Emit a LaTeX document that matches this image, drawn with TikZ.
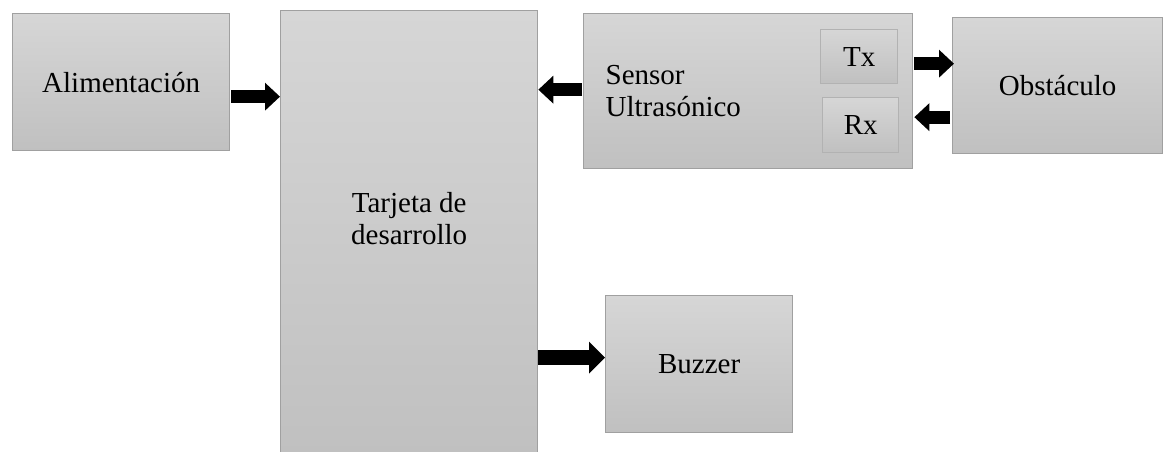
\documentclass[tikz,border=0pt]{standalone}
\usepackage{fontspec}
\setmainfont{Liberation Serif}
\usepackage{tikz}
\usetikzlibrary{arrows.meta,calc,shapes}

\definecolor{boxtop}{RGB}{214,214,214}
\definecolor{boxbot}{RGB}{192,192,192}
\definecolor{boxline}{RGB}{160,160,160}
\definecolor{subline}{RGB}{178,178,178}

\begin{document}
\begin{tikzpicture}[x=0.75pt,y=-0.75pt,font=\fontsize{21.75}{24}\selectfont]
  \tikzstyle{box}=[rectangle,draw=boxline,line width=1pt,top color=boxtop,
                   bottom color=boxbot,anchor=north west,inner sep=0pt,align=center]
  \tikzstyle{subbox}=[box,draw=subline]
  \tikzstyle{blk}=[line width=9.75pt,-{Triangle[length=11.25pt,width=20.25pt]}]
  \tikzstyle{blkbig}=[line width=11.5pt,-{Triangle[length=12pt,width=23.25pt]}]

  \useasboundingbox (0,0) rectangle (1165,451);

  % bloques
  \node [box,minimum width=162.75pt,minimum height=102.75pt] (alim) at (12,13) {Alimentación};
  \node [box,minimum width=192.75pt,minimum height=333.75pt] (tarjeta) at (280,10) {};
  \node [align=center] (tarjetatxt) at ($(tarjeta.center)+(0,-15)$) {Tarjeta de\\desarrollo};
  \node [box,minimum width=246.75pt,minimum height=116.25pt,align=left,
         text width=213.75pt,inner xsep=16.5pt] (sensor) at (583,13) {Sensor\\Ultrasónico};
  \node [subbox,minimum width=57.75pt,minimum height=40.5pt] (tx) at (820,29) {Tx};
  \node [subbox,minimum width=57pt,minimum height=41.25pt] (rx) at (822,97) {Rx};
  \node [box,minimum width=157.5pt,minimum height=102pt] (obst) at (952,17) {Obstáculo};
  \node [box,minimum width=140.25pt,minimum height=102.75pt] (buzzer) at (605,295) {Buzzer};

  % flechas
  \draw [blk] ($(alim.east)+(1,14.5)$) -- ($(alim.east -| tarjeta.west)+(0,14.5)$);
  \draw [blk] ($(sensor.west)+(-1,-1.5)$) -- ($(sensor.west -| tarjeta.east)+(0,-1.5)$);
  \draw [blk] ($(tx.east -| sensor.east)+(1,7)$) -- ($(tx.east -| obst.west)+(2,7)$);
  \draw [blk] ($(rx.east -| obst.west)+(-2,-8)$) -- ($(rx.east -| sensor.east)+(1,-8)$);
  \draw [blkbig] ($(tarjeta.east |- buzzer.west)+(0,-6.5)$) -- ($(buzzer.west)+(0,-6.5)$);
\end{tikzpicture}
\end{document}
